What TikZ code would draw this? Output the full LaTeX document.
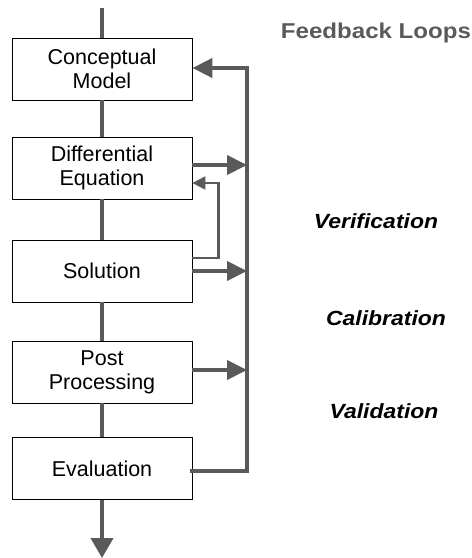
\documentclass[tikz,border=0pt]{standalone}
\usepackage{fontspec}
\setmainfont{Liberation Sans}
\newfontfamily\tagfont[FakeStretch=1.12]{Liberation Sans}
\usetikzlibrary{arrows.meta}
\definecolor{linegray}{HTML}{5A5A5A}
\begin{document}
\begin{tikzpicture}[x=1pt, y=-1pt,
	box/.style = {draw, thick, minimum width=180pt, minimum height=62pt, align=center, inner sep=2pt, font=\fontsize{21.5}{24}\selectfont},
	flow/.style = {draw=linegray, line width=4pt},
	fb/.style = {flow, -{Triangle[length=20pt, width=19pt]}},
	loopback/.style = {draw=linegray, line width=2.2pt, -{Triangle[length=13pt, width=13pt]}},
	tag/.style = {font=\tagfont\fontsize{20.5}{24}\selectfont\bfseries\itshape}]
				\useasboundingbox (0,0) rectangle (472,558);
				\node[box] (CM) at (102,69) {Conceptual\\Model};
				\node[box] (DE) at (102,168) {Differential\\Equation};
				\node[box] (SO) at (102,271) {Solution};
				\node[box] (PP) at (102,372) {Post\\Processing};
				\node[box] (EV) at (102,468.5) {Evaluation};
				\coordinate (top) at (102,8);
				\coordinate (bottom) at (102,558);
				\coordinate (busTop) at (247,68);
				\coordinate (busBottom) at (247,471);
				\draw[flow] (top) -- (CM.north);
				\draw[flow] (CM) -- (DE) (DE) -- (SO) (SO) -- (PP) (PP) -- (EV);
				\draw[flow, -{Triangle[length=20pt, width=22pt]}] (EV) -- (bottom);
				% feedback bus
				\draw[flow, line cap=rect] (EV.east |- busBottom) -- (busBottom) -- (busTop);
				\draw[fb] (busTop) -- (CM.east |- busTop);
				\coordinate (DEout) at ([yshift=3pt]DE.east);
				\coordinate (PPout) at ([yshift=2pt]PP.east);
				\draw[fb] (DEout) -- (busTop |- DEout);
				\draw[fb] (SO.east) -- (busTop |- SO.east);
				\draw[fb] (PPout) -- (busTop |- PPout);
				% inner loop
				\coordinate (loopA) at ([yshift=13pt]SO.east);
				\coordinate (loopB) at ([yshift=-15pt]DE.east);
				\draw[loopback] (loopA) -- ++(26,0) |- (loopB);
				% labels
				\node[text=linegray, font=\tagfont\fontsize{21.5}{24}\selectfont\bfseries] (title) at (376,33) {Feedback Loops};
				\node[tag] (ver) at (376,221) {Verification};
				\node[tag] (cal) at (386,318) {Calibration};
				\node[tag] (val) at (384,411) {Validation};
			\end{tikzpicture}
\end{document}
